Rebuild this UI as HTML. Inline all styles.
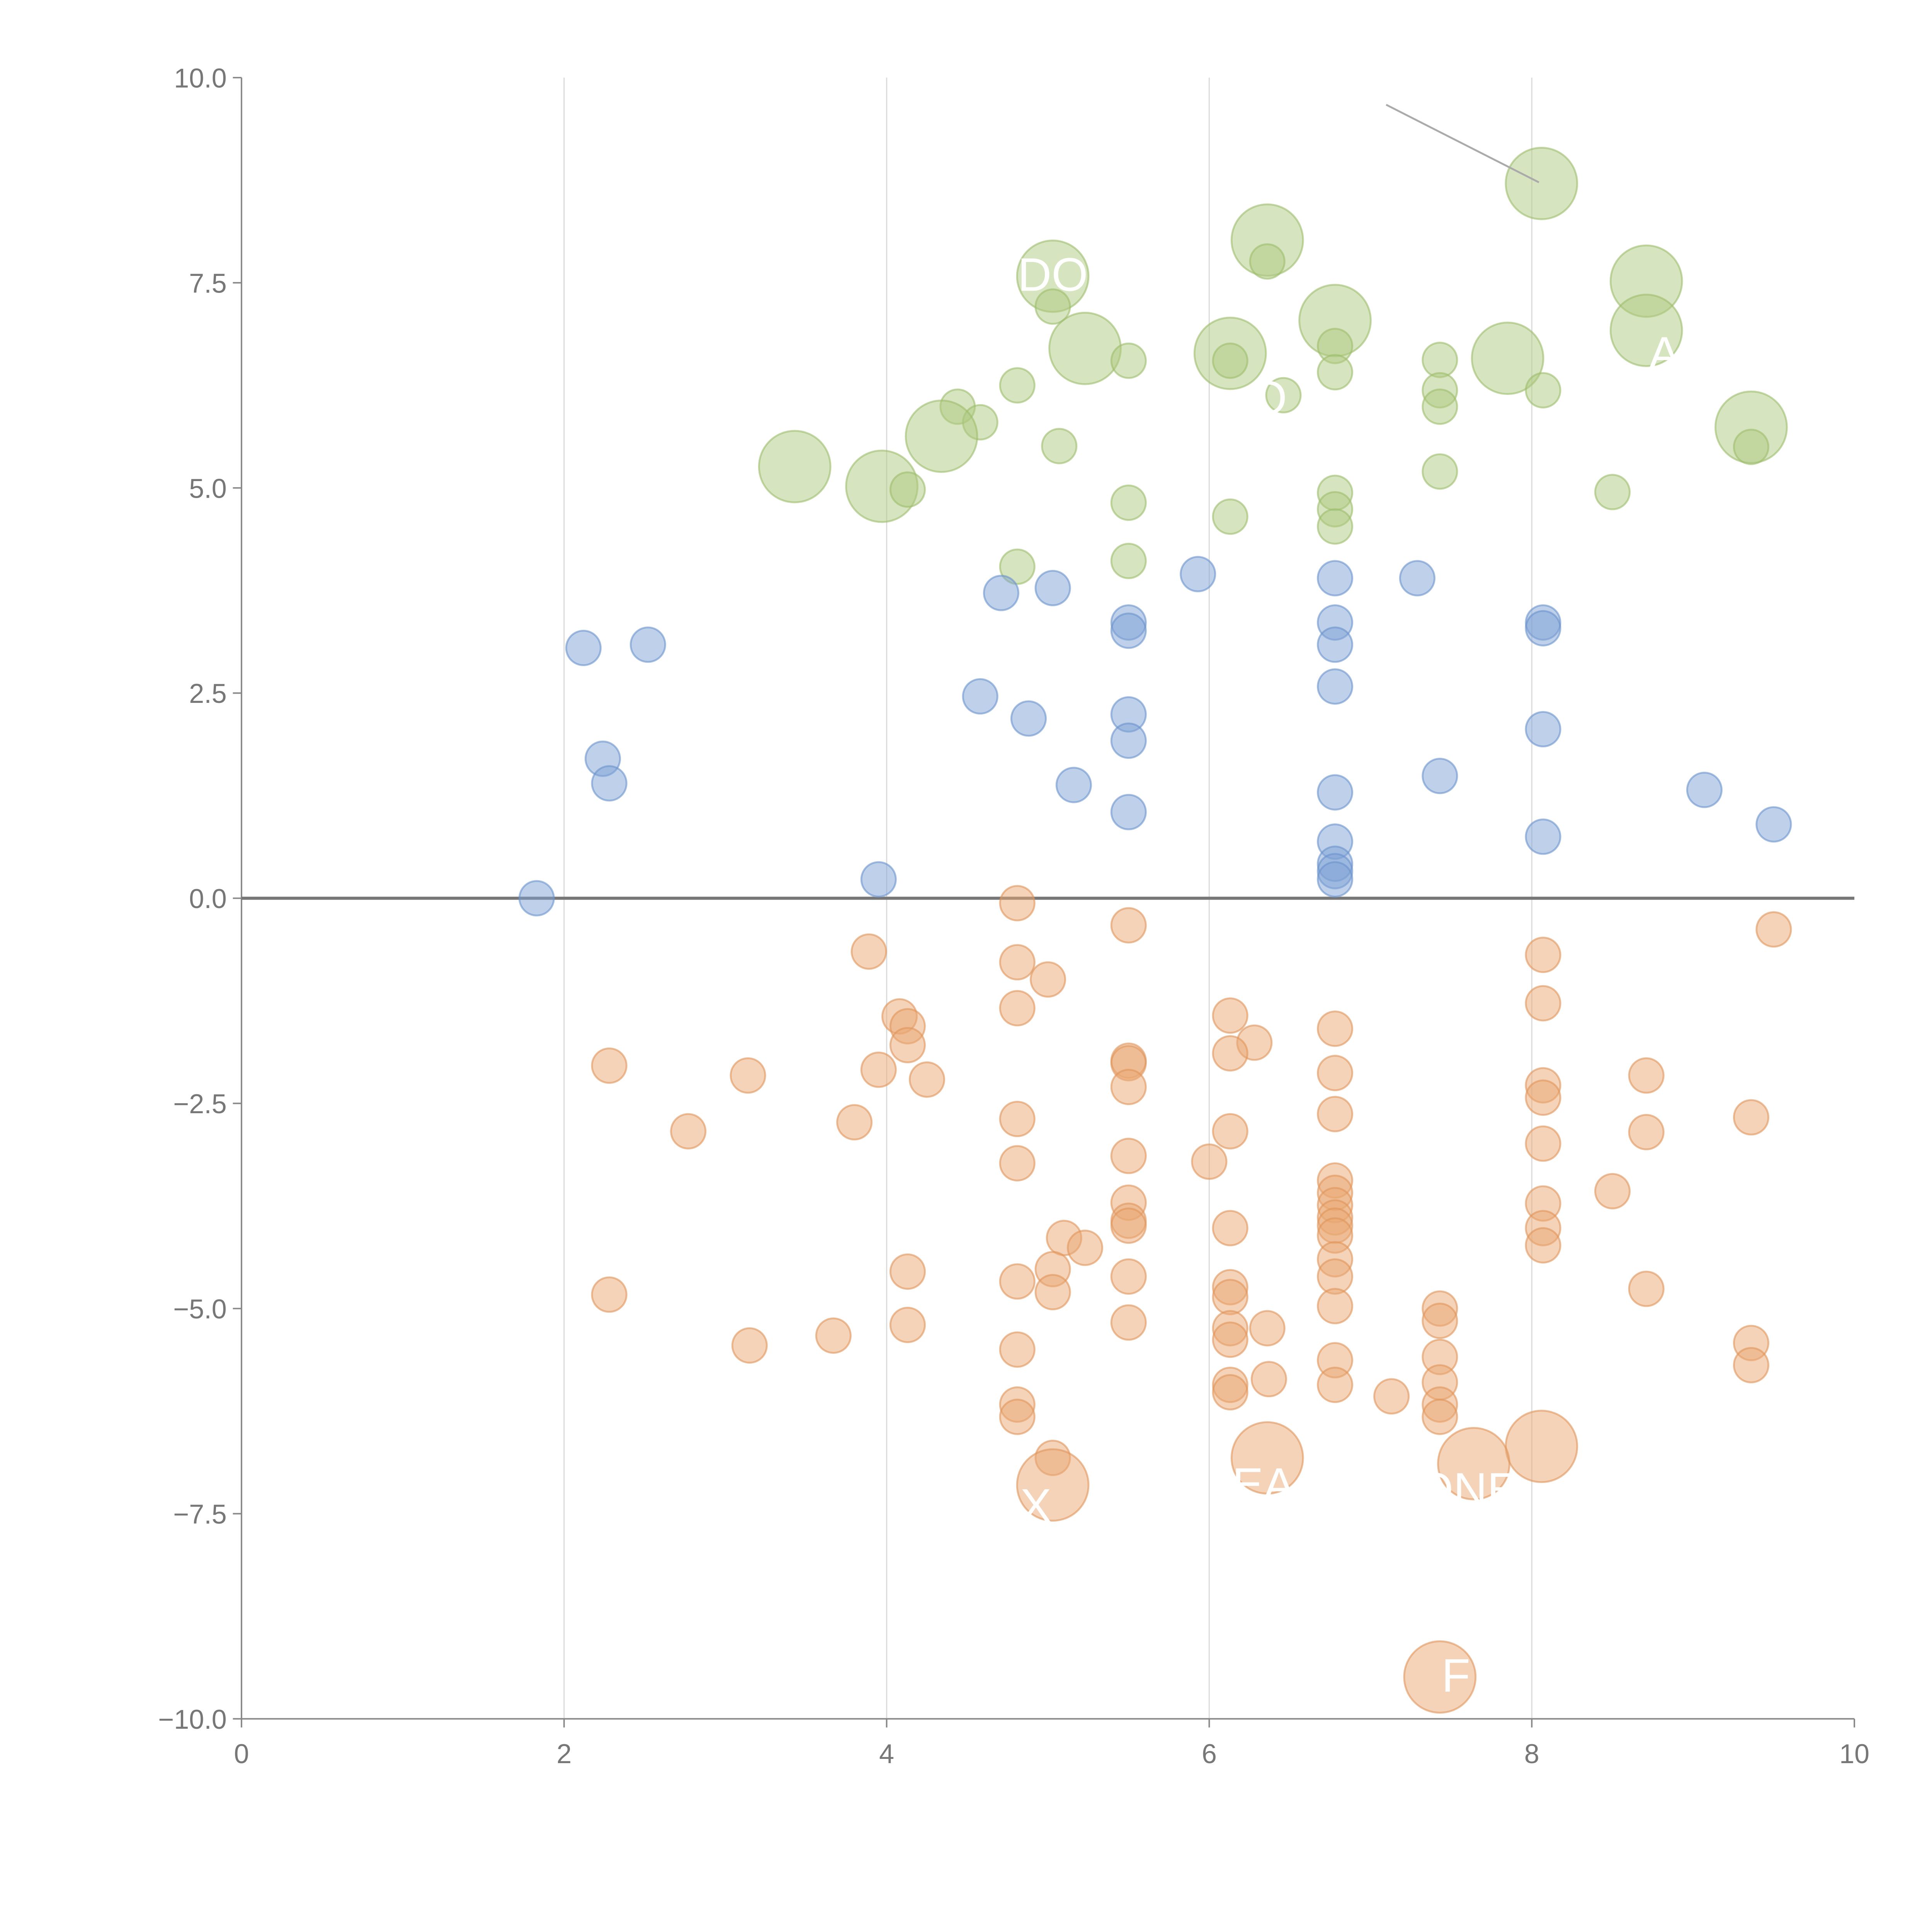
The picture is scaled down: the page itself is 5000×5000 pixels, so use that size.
<!DOCTYPE html>
<html><head><meta charset="utf-8"><style>
html,body{margin:0;padding:0;background:#fff;}
svg{display:block;}
text{font-family:"Liberation Sans",sans-serif;}
</style></head><body>
<svg id="chart" width="5000" height="5000" viewBox="0 0 1568 1568" xmlns="http://www.w3.org/2000/svg">
<g id="grid"></g>
<g id="axes"></g>
<g id="marks"></g>
<g id="labels"></g>
</svg>
<script>
const xTicks=[0,2,4,6,8,10];
const yTicks=[-10,-7.5,-5,-2.5,0,2.5,5,7.5,10];
const yTickLabels=["\u221210.0","\u22127.5","\u22125.0","\u22122.5","0.0","2.5","5.0","7.5","10.0"];
const greenX=[8.06,6.36,6.36,5.03,5.03,8.71,6.78,8.71,5.23,6.78,6.13,6.13,7.85,5.50,7.43,6.78,4.81,6.46,7.43,8.07,7.43,4.44,4.58,4.34,9.36,5.07,9.36,3.43,7.43,3.97,4.13,8.50,6.78,5.50,6.78,6.13,6.78,5.50,4.81];
const greenY=[8.71,8.02,7.76,7.58,7.21,7.52,7.04,6.92,6.70,6.73,6.64,6.55,6.58,6.55,6.56,6.41,6.25,6.13,6.19,6.19,5.99,5.99,5.80,5.63,5.74,5.51,5.50,5.26,5.20,5.02,4.98,4.95,4.94,4.82,4.74,4.65,4.53,4.11,4.04];
const greenBig=[1,1,0,1,0,1,1,1,1,0,1,0,1,0,0,0,0,0,0,0,0,0,0,1,1,0,0,1,0,1,0,0,0,0,0,0,0,0,0];
const blueX=[5.93,7.29,6.78,4.71,5.03,5.50,5.50,6.78,8.07,8.07,6.78,2.12,2.52,6.78,4.58,4.88,5.50,8.07,5.50,2.24,2.28,7.43,5.16,6.78,9.07,5.50,9.50,8.07,6.78,6.78,6.78,6.78,3.95,1.83];
const blueY=[3.95,3.90,3.90,3.72,3.78,3.36,3.26,3.36,3.36,3.29,3.09,3.05,3.09,2.58,2.46,2.19,2.24,2.06,1.92,1.70,1.40,1.49,1.38,1.29,1.32,1.05,0.90,0.75,0.69,0.42,0.33,0.23,0.23,0.00];
const orangeX=[4.81,9.50,5.50,3.89,8.07,4.81,5.00,8.07,4.81,4.08,6.13,4.13,6.78,6.28,4.13,6.13,5.50,5.50,2.28,3.95,6.78,3.14,8.71,4.25,5.50,8.07,8.07,6.78,4.81,9.36,3.80,2.77,6.13,8.71,8.07,5.50,6.00,4.81,6.78,6.78,8.50,8.07,6.78,5.50,6.78,5.50,6.78,5.50,6.13,8.07,6.78,5.10,8.07,5.23,6.78,4.13,5.03,5.50,6.78,4.81,6.13,8.71,2.28,5.03,6.13,6.78,7.43,7.43,5.50,4.13,6.36,6.13,6.13,3.67,9.36,3.15,4.81,7.43,6.78,9.36,6.37,7.43,6.13,6.78,6.13,7.13,4.81,7.43,7.43,4.81,8.06,5.03,6.36,7.64,5.03,7.43];
const orangeY=[-0.06,-0.38,-0.33,-0.65,-0.69,-0.78,-0.99,-1.28,-1.34,-1.44,-1.43,-1.56,-1.59,-1.76,-1.79,-1.89,-1.98,-2.01,-2.04,-2.09,-2.13,-2.16,-2.16,-2.21,-2.30,-2.28,-2.43,-2.63,-2.69,-2.67,-2.73,-2.84,-2.84,-2.85,-2.99,-3.14,-3.21,-3.23,-3.44,-3.59,-3.57,-3.72,-3.74,-3.71,-3.89,-3.93,-3.99,-3.99,-4.02,-4.02,-4.11,-4.14,-4.23,-4.26,-4.40,-4.55,-4.52,-4.61,-4.61,-4.67,-4.74,-4.76,-4.83,-4.80,-4.86,-4.97,-5.00,-5.15,-5.17,-5.20,-5.24,-5.24,-5.38,-5.33,-5.42,-5.45,-5.50,-5.59,-5.63,-5.69,-5.86,-5.90,-5.93,-5.93,-6.02,-6.07,-6.17,-6.17,-6.32,-6.32,-6.68,-6.82,-6.82,-6.89,-7.15,-9.49];
const orangeBig=[0,0,0,0,0,0,0,0,0,0,0,0,0,0,0,0,0,0,0,0,0,0,0,0,0,0,0,0,0,0,0,0,0,0,0,0,0,0,0,0,0,0,0,0,0,0,0,0,0,0,0,0,0,0,0,0,0,0,0,0,0,0,0,0,0,0,0,0,0,0,0,0,0,0,0,0,0,0,0,0,0,0,0,0,0,0,0,0,0,0,1,0,1,1,1,1];

const NS="http://www.w3.org/2000/svg";
const X0=196,X1=1505,Y0=1395,Y1=63;
function sx(v){return X0+(v-0)/(10-0)*(X1-X0);}
function sy(v){return Y0-(v+10)/20*(Y0-Y1);}
function mk(tag,attrs,parent){const e=document.createElementNS(NS,tag);for(const k in attrs)e.setAttribute(k,attrs[k]);parent.appendChild(e);return e;}
const grid=document.getElementById('grid'),axes=document.getElementById('axes'),marks=document.getElementById('marks'),labels=document.getElementById('labels');
xTicks.forEach(t=>{if(t>0&&t<10){const l=mk('line',{x1:sx(t),x2:sx(t),y1:Y1,y2:Y0,stroke:'#dcdcdc','stroke-width':1},grid);

}});
// axes
let a=mk('line',{x1:X0,x2:X0,y1:Y1,y2:Y0,stroke:'#888','stroke-width':1.2},axes);


a=mk('line',{x1:X0,x2:X1,y1:Y0,y2:Y0,stroke:'#888','stroke-width':1.2},axes);


a=mk('line',{x1:X0,x2:X1,y1:sy(0),y2:sy(0),stroke:'#777','stroke-width':2.5},axes);


xTicks.forEach(t=>{mk('line',{x1:sx(t),x2:sx(t),y1:Y0,y2:Y0+7,stroke:'#888','stroke-width':1.2},axes);
const tx=mk('text',{x:sx(t),y:Y0+36,'text-anchor':'middle','font-size':22,fill:'#777'},axes);tx.textContent=t;

});
yTicks.forEach((t,i)=>{mk('line',{x1:X0-7,x2:X0,y1:sy(t),y2:sy(t),stroke:'#888','stroke-width':1.2},axes);
const tx=mk('text',{x:X0-12,y:sy(t)+8,'text-anchor':'end','font-size':22,fill:'#777'},axes);tx.textContent=yTickLabels[i];

});
function series(xs,ys,big,fill,stroke,name){xs.forEach((x,i)=>{const c=mk('circle',{cx:sx(x),cy:sy(ys[i]),r:big&&big[i]?29:14,fill:fill,'fill-opacity':0.5,stroke:stroke,'stroke-opacity':0.6,'stroke-width':1.5},marks);

});}
series(greenX,greenY,greenBig,'#adc97f','#9cbc6c','green-point');
series(blueX,blueY,null,'#7ea2d6','#6b92cc','blue-point');
series(orangeX,orangeY,orangeBig,'#e9a872','#e0955a','orange-point');
const ann=mk('line',{x1:1125,y1:85,x2:1249,y2:148,stroke:'#aaa','stroke-width':1.5},labels);


[["DO",826,236],["F",1170,1373],["X",828,1235],["EA",1000,1218],["ONE",1150,1222],["A",1338,300],["O",1015,336]].forEach(d=>{const t=mk('text',{x:d[1],y:d[2],'font-size':38,fill:'#fff'},labels);t.textContent=d[0];

});
</script>
</body></html>
